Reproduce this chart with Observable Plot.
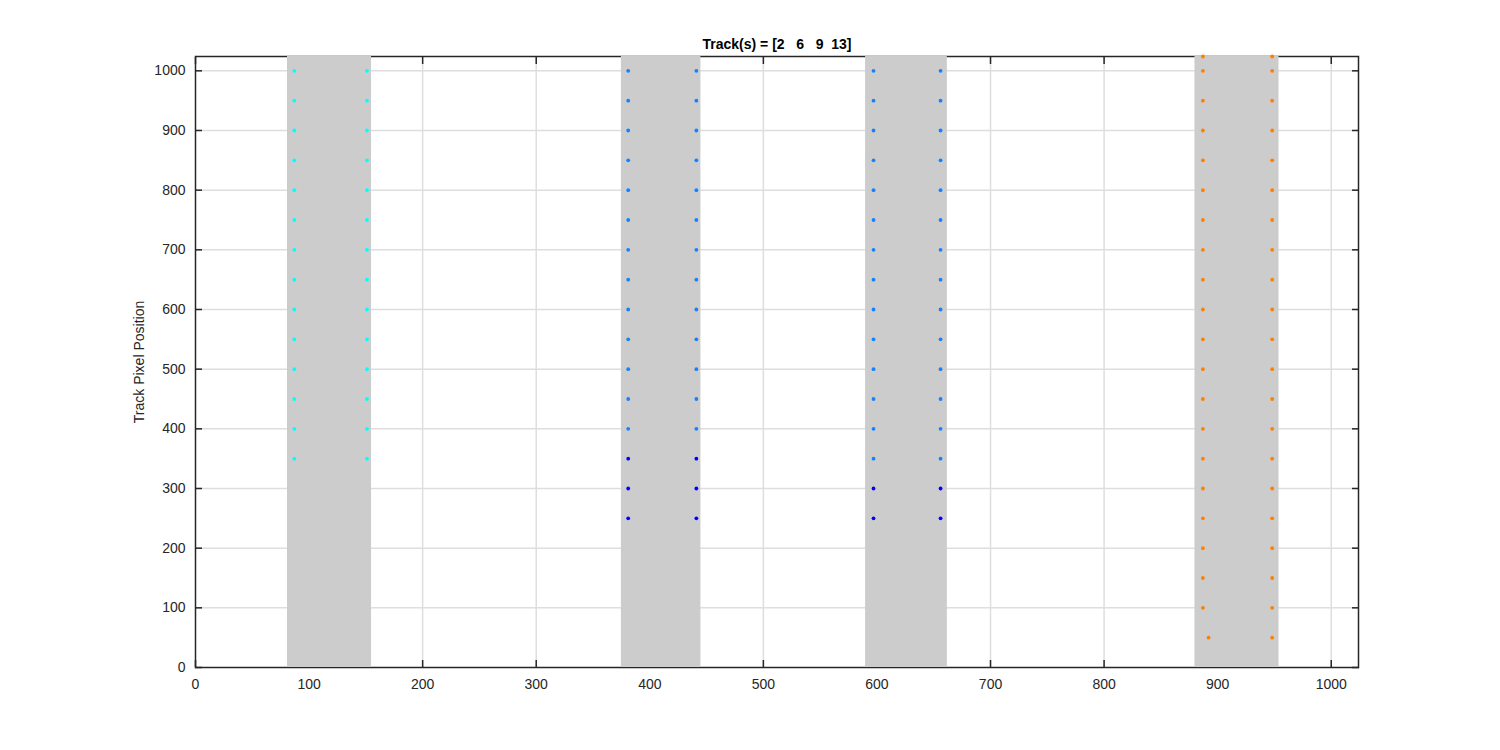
<!DOCTYPE html>
<html>
<head>
<meta charset="utf-8">
<script src="https://cdn.jsdelivr.net/npm/d3@7"></script>
<script src="https://cdn.jsdelivr.net/npm/@observablehq/plot@0.6"></script>
<style>
  html, body { margin: 0; padding: 0; background: #fff; }
  #chart { width: 1500px; height: 750px; }
  svg text { white-space: pre; }
</style>
</head>
<body>
<div id="chart"></div>
<script>
// ---- data ----
const titleText = "Track(s) = [2   6   9  13]";
const yLabel = "Track Pixel Position";
const xTicks = [0, 100, 200, 300, 400, 500, 600, 700, 800, 900, 1000];
const yTicks = [0, 100, 200, 300, 400, 500, 600, 700, 800, 900, 1000];
const axisMax = 1024;

// gray bands (x extents), one per track
const bandStart = [81, 375, 590, 880];
const bandEnd   = [155, 445, 662, 954];

// track 2 (cyan)
const t2LeftX = [87, 87, 87, 87, 87, 87, 87, 87, 87, 87, 87, 87, 87, 87];
const t2RightX = [151, 151, 151, 151, 151, 151, 151, 151, 151, 151, 151, 151, 151, 151];
const t2Y = [350, 400, 450, 500, 550, 600, 650, 700, 750, 800, 850, 900, 950, 1000];
const t2Color = ["cyan", "cyan", "cyan", "cyan", "cyan", "cyan", "cyan", "cyan", "cyan", "cyan", "cyan", "cyan", "cyan", "cyan"];

// track 6 (blue / azure)
const t6LeftX = [381, 381, 381, 381, 381, 381, 381, 381, 381, 381, 381, 381, 381, 381, 381, 381];
const t6RightX = [441, 441, 441, 441, 441, 441, 441, 441, 441, 441, 441, 441, 441, 441, 441, 441];
const t6Y = [250, 300, 350, 400, 450, 500, 550, 600, 650, 700, 750, 800, 850, 900, 950, 1000];
const t6Color = ["#0000ff", "#0000ff", "#0000ff", "#1482ff", "#1482ff", "#1482ff", "#1482ff", "#1482ff", "#1482ff", "#1482ff", "#1482ff", "#1482ff", "#1482ff", "#1482ff", "#1482ff", "#1482ff"];

// track 9 (blue / azure)
const t9LeftX = [597, 597, 597, 597, 597, 597, 597, 597, 597, 597, 597, 597, 597, 597, 597, 597];
const t9RightX = [656, 656, 656, 656, 656, 656, 656, 656, 656, 656, 656, 656, 656, 656, 656, 656];
const t9Y = [250, 300, 350, 400, 450, 500, 550, 600, 650, 700, 750, 800, 850, 900, 950, 1000];
const t9Color = ["#0000ff", "#0000ff", "#1482ff", "#1482ff", "#1482ff", "#1482ff", "#1482ff", "#1482ff", "#1482ff", "#1482ff", "#1482ff", "#1482ff", "#1482ff", "#1482ff", "#1482ff", "#1482ff"];

// track 13 (orange)
const t13LeftX = [892, 887, 887, 887, 887, 887, 887, 887, 887, 887, 887, 887, 887, 887, 887, 887, 887, 887, 887, 887, 887];
const t13RightX = [948, 948, 948, 948, 948, 948, 948, 948, 948, 948, 948, 948, 948, 948, 948, 948, 948, 948, 948, 948, 948];
const t13Y = [50, 100, 150, 200, 250, 300, 350, 400, 450, 500, 550, 600, 650, 700, 750, 800, 850, 900, 950, 1000, 1024];
const t13Color = "#ff8000";

// ---- build tables ----
const bands = bandStart.map((s, i) => ({start: s, end: bandEnd[i]}));
const points = [];
function addTrack(lx, rx, ys, col) {
  ys.forEach((y, i) => {
    const c = Array.isArray(col) ? col[i] : col;
    points.push({x: lx[i], y, color: c});
    points.push({x: rx[i], y, color: c});
  });
}
addTrack(t2LeftX, t2RightX, t2Y, t2Color);
addTrack(t6LeftX, t6RightX, t6Y, t6Color);
addTrack(t9LeftX, t9RightX, t9Y, t9Color);
addTrack(t13LeftX, t13RightX, t13Y, t13Color);

const ink = "#262626";
const gridXs = xTicks.filter(d => d > 0);
const gridYs = yTicks.filter(d => d > 0);
const fmt = d3.format("d");

const chart = Plot.plot({
  width: 1500,
  height: 750,
  marginLeft: 195,
  marginRight: 142,
  marginTop: 56,
  marginBottom: 83,
  x: {domain: [0, axisMax], label: null},
  y: {domain: [0, axisMax], label: null},
  color: {type: "identity"},
  style: {fontFamily: "'Liberation Sans', Arial, Helvetica, sans-serif", fontSize: "14px", color: ink, background: "#fff"},
  marks: [
    Plot.gridX(gridXs, {stroke: "#dedede", strokeOpacity: 1, strokeWidth: 1.5}),
    Plot.gridY(gridYs, {stroke: "#dedede", strokeOpacity: 1, strokeWidth: 1.5}),
    Plot.frame({stroke: ink, strokeWidth: 1.5}),
    Plot.axisX(xTicks, {anchor: "bottom", tickSize: -7, tickPadding: 19, tickFormat: fmt, fontSize: 14, stroke: ink, fill: ink, strokeWidth: 1.5}),
    Plot.axisX(xTicks, {anchor: "top", tickSize: -7, tickFormat: () => "", stroke: ink, strokeWidth: 1.5}),
    Plot.axisY(yTicks, {anchor: "left", tickSize: -7, tickPadding: 17, tickFormat: fmt, fontSize: 14, stroke: ink, fill: ink, strokeWidth: 1.5}),
    Plot.axisY(yTicks, {anchor: "right", tickSize: -7, tickFormat: () => "", stroke: ink, strokeWidth: 1.5}),
    Plot.rect(bands, {x1: "start", x2: "end", fill: "#cccccc"}),
    Plot.dot(points, {x: "x", y: "y", fill: "color", r: 1.9, stroke: null}),
    Plot.text([titleText], {frameAnchor: "top", lineAnchor: "middle", textAnchor: "middle", dy: -12, fontWeight: "bold", fontSize: 14, fill: "#000"}),
    Plot.text([yLabel], {frameAnchor: "left", textAnchor: "middle", lineAnchor: "middle", dx: -56, rotate: -90, fontSize: 14, fill: ink})
  ]
});
document.getElementById("chart").appendChild(chart);
</script>
</body>
</html>
